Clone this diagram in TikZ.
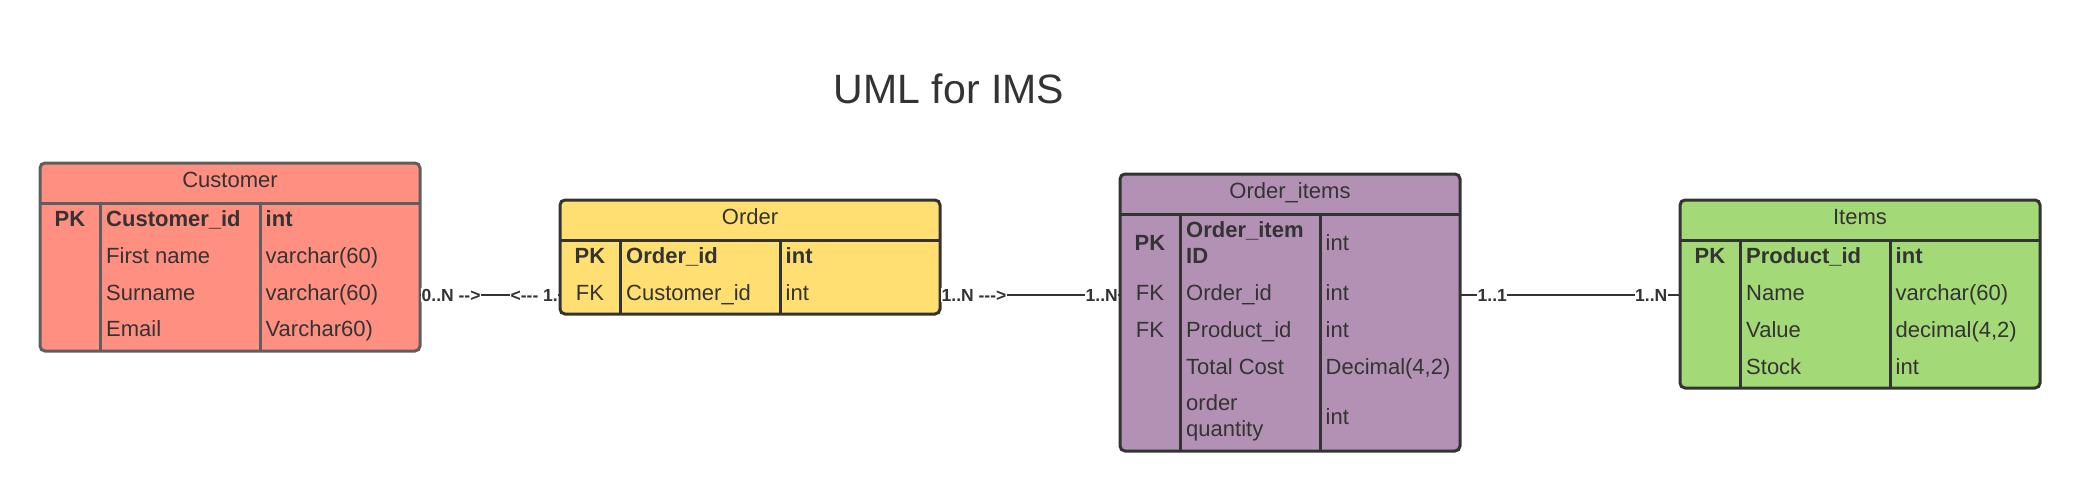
\documentclass[tikz,border=0pt]{standalone}
\usepackage{fontspec}
\setmainfont{Liberation Sans}
\definecolor{ink}{HTML}{333333}
\definecolor{custfill}{HTML}{FF8F80}
\definecolor{custline}{HTML}{5E5E5E}
\definecolor{ordfill}{HTML}{FFDF71}
\definecolor{oifill}{HTML}{B391B5}
\definecolor{itfill}{HTML}{A3D977}
\begin{document}
\begin{tikzpicture}[x=1pt,y=-1pt,
  tbl/.style={rectangle, rounded corners=5pt, line width=3pt, draw=ink, anchor=north west, inner sep=0pt, outer sep=0pt},
  divline/.style={line width=3pt, draw=ink},
  hdr/.style={anchor=base, inner sep=0pt, text=ink, font=\fontsize{22}{26}\selectfont},
  cell/.style={anchor=base west, inner sep=0pt, text=ink, align=left, font=\fontsize{22}{26}\selectfont},
  bcell/.style={cell, font=\fontsize{22}{26}\selectfont\bfseries},
  keyc/.style={anchor=base, inner sep=0pt, text=ink, font=\fontsize{22}{26}\selectfont},
  bkeyc/.style={keyc, font=\fontsize{22}{26}\selectfont\bfseries},
  conn/.style={line width=2pt, draw=ink},
  mult/.style={inner sep=0.5pt, fill=white, text=ink, font=\fontsize{17.5}{20}\selectfont\bfseries}
]
\useasboundingbox (0,0) rectangle (2080,491);
\fill[white] (0,0) rectangle (2080,491);

% title
\node[anchor=base, inner sep=0pt, text=ink, font=\fontsize{41}{48}\selectfont] (title) at (949,103.3) {UML for IMS};

% row coordinates for connectors
\coordinate (rowA) at (0,295);

% ---------- Customer ----------
\node[tbl, fill=custfill, draw=custline, minimum width=380pt, minimum height=188pt] (cust) at (40,163) {};
\draw[divline, draw=custline] ([yshift=-40pt]cust.north west) -- ([yshift=-40pt]cust.north east);
\draw[divline, draw=custline] ([xshift=60pt,yshift=-40pt]cust.north west) -- ([xshift=60pt]cust.south west);
\draw[divline, draw=custline] ([xshift=220pt,yshift=-40pt]cust.north west) -- ([xshift=220pt]cust.south west);
\node[hdr] (custT) at (230,187.3) {Customer};
\node[bkeyc] (custK1) at (70,226.7) {PK};
\node[bcell] (custN1) at (106,226.7) {Customer\_id};
\node[bcell] (custY1) at (265.5,226.7) {int};
\node[cell] (custN2) at (106,263.4) {First name};
\node[cell] (custY2) at (265.5,263.4) {varchar(60)};
\node[cell] (custN3) at (106,300.1) {Surname};
\node[cell] (custY3) at (265.5,300.1) {varchar(60)};
\node[cell] (custN4) at (106,336.8) {Email};
\node[cell] (custY4) at (265.5,336.8) {Varchar60)};

% ---------- Order ----------
\node[tbl, fill=ordfill, minimum width=380pt, minimum height=114pt] (ord) at (560,200) {};
\draw[divline] ([yshift=-40pt]ord.north west) -- ([yshift=-40pt]ord.north east);
\draw[divline] ([xshift=60pt,yshift=-40pt]ord.north west) -- ([xshift=60pt]ord.south west);
\draw[divline] ([xshift=220pt,yshift=-40pt]ord.north west) -- ([xshift=220pt]ord.south west);
\node[hdr] (ordT) at (750,224) {Order};
\node[bkeyc] (ordK1) at (590,263.3) {PK};
\node[bcell] (ordN1) at (626,263.3) {Order\_id};
\node[bcell] (ordY1) at (785.5,263.3) {int};
\node[keyc] (ordK2) at (590,300) {FK};
\node[cell] (ordN2) at (626,300) {Customer\_id};
\node[cell] (ordY2) at (785.5,300) {int};

% ---------- Order_items ----------
\node[tbl, fill=oifill, minimum width=340pt, minimum height=277pt] (oi) at (1120,174) {};
\draw[divline] ([yshift=-40pt]oi.north west) -- ([yshift=-40pt]oi.north east);
\draw[divline] ([xshift=60pt,yshift=-40pt]oi.north west) -- ([xshift=60pt]oi.south west);
\draw[divline] ([xshift=200pt,yshift=-40pt]oi.north west) -- ([xshift=200pt]oi.south west);
\node[hdr] (oiT) at (1290,198.3) {Order\_items};
\node[bkeyc] (oiK1) at (1150,250.3) {PK};
\node[bcell] (oiN1) at (1186,263.3) {Order\_item\\ID};
\node[cell] (oiY1) at (1325.5,250.3) {int};
\node[keyc] (oiK2) at (1150,300) {FK};
\node[cell] (oiN2) at (1186,300) {Order\_id};
\node[cell] (oiY2) at (1325.5,300) {int};
\node[keyc] (oiK3) at (1150,337) {FK};
\node[cell] (oiN3) at (1186,337) {Product\_id};
\node[cell] (oiY3) at (1325.5,337) {int};
\node[cell] (oiN4) at (1186,374) {Total Cost};
\node[cell] (oiY4) at (1325.5,374) {Decimal(4,2)};
\node[cell] (oiN5) at (1186,436.5) {order\\quantity};
\node[cell] (oiY5) at (1325.5,424) {int};

% ---------- Items ----------
\node[tbl, fill=itfill, minimum width=360pt, minimum height=188pt] (itm) at (1680,200) {};
\draw[divline] ([yshift=-40pt]itm.north west) -- ([yshift=-40pt]itm.north east);
\draw[divline] ([xshift=60pt,yshift=-40pt]itm.north west) -- ([xshift=60pt]itm.south west);
\draw[divline] ([xshift=210pt,yshift=-40pt]itm.north west) -- ([xshift=210pt]itm.south west);
\node[hdr] (itmT) at (1860,224) {Items};
\node[bkeyc] (itmK1) at (1710,263.3) {PK};
\node[bcell] (itmN1) at (1746,263.3) {Product\_id};
\node[bcell] (itmY1) at (1895.5,263.3) {int};
\node[cell] (itmN2) at (1746,300) {Name};
\node[cell] (itmY2) at (1895.5,300) {varchar(60)};
\node[cell] (itmN3) at (1746,337) {Value};
\node[cell] (itmY3) at (1895.5,337) {decimal(4,2)};
\node[cell] (itmN4) at (1746,374) {Stock};
\node[cell] (itmY4) at (1895.5,374) {int};

% ---------- connectors ----------
\draw[conn] (cust.east |- rowA) -- (ord.west |- rowA);
\node[mult, anchor=west] (m1) at ([xshift=1pt]cust.east |- rowA) {0..N {-}{-}>};
\node[mult, anchor=east] (m2) at ([xshift=-1.5pt]ord.west |- rowA) {<{-}{-}{-} 1.};

\draw[conn] (ord.east |- rowA) -- (oi.west |- rowA);
\node[mult, anchor=west] (m3) at ([xshift=1pt]ord.east |- rowA) {1..N {-}{-}{-}>};
\node[mult, anchor=east] (m4) at ([xshift=-1.5pt]oi.west |- rowA) {1..N};

\draw[conn] (oi.east |- rowA) -- (itm.west |- rowA);
\node[mult, anchor=west] (m5) at ([xshift=17pt]oi.east |- rowA) {1..1};
\node[mult, anchor=east] (m6) at ([xshift=-12pt]itm.west |- rowA) {1..N};
\end{tikzpicture}
\end{document}
